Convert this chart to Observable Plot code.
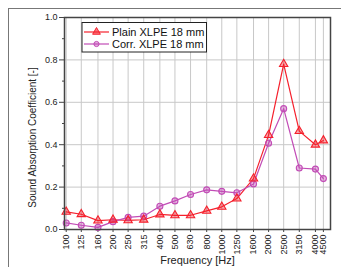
<!DOCTYPE html>
<html>
<head>
<meta charset="utf-8">
<script src="https://cdn.jsdelivr.net/npm/d3@7"></script>
<script src="https://cdn.jsdelivr.net/npm/@observablehq/plot@0.6"></script>
<style>
  html, body { margin: 0; padding: 0; background: #fff; }
  #wrap { position: relative; width: 341px; height: 267px; overflow: hidden; font-family: "Liberation Sans", Arial, sans-serif; }
  #outer { position: absolute; left: 8px; top: 8px; width: 400px; height: 400px; border-left: 1px solid #777; border-top: 1px solid #777; box-sizing: border-box; }
  #chart { position: absolute; left: 0; top: 0; }
  #legend { position: absolute; left: 0; top: 0; }
</style>
</head>
<body>
<div id="wrap">
  <div id="outer"></div>
  <div id="chart"></div>
  <svg id="legend" width="341" height="267"></svg>
</div>
<script>
const frequencies = [100, 125, 160, 200, 250, 315, 400, 500, 630, 800, 1000, 1250, 1600, 2000, 2500, 3150, 4000, 4500];
const plainXLPE = [0.083, 0.072, 0.042, 0.046, 0.043, 0.046, 0.071, 0.067, 0.067, 0.088, 0.107, 0.146, 0.24, 0.445, 0.78, 0.464, 0.40, 0.42];
const corrXLPE = [0.031, 0.02, 0.01, 0.037, 0.057, 0.063, 0.11, 0.135, 0.165, 0.187, 0.18, 0.173, 0.215, 0.407, 0.57, 0.29, 0.285, 0.24];
const seriesNames = ["Plain XLPE 18 mm", "Corr. XLPE 18 mm"];
const seriesColors = ["#f5202c", "#c24cb6"];
const yMajorTicks = [0, 0.2, 0.4, 0.6, 0.8, 1.0];
const yMinorTicks = [0.1, 0.3, 0.5, 0.7, 0.9];
const xLabel = "Frequency [Hz]";
const yLabel = "Sound Absorption Coefficient [-]";

const rows = [];
frequencies.forEach((f, i) => {
  rows.push({f, v: plainXLPE[i], s: seriesNames[0]});
  rows.push({f, v: corrXLPE[i], s: seriesNames[1]});
});
const plain = rows.filter(d => d.s === seriesNames[0]);
const corr = rows.filter(d => d.s === seriesNames[1]);

const chart = Plot.plot({
  width: 341,
  height: 267,
  marginLeft: 64,
  marginRight: 11,
  marginTop: 17,
  marginBottom: 38,
  style: {fontFamily: '"Liberation Sans", Arial, sans-serif', fontSize: "9px", background: "transparent", overflow: "visible"},
  x: {type: "log", domain: [97.5, 5000]},
  y: {domain: [0, 1]},
  marks: [
    Plot.gridX(frequencies, {stroke: "#c8c8c8", strokeOpacity: 1, strokeWidth: 1}),
    Plot.gridY([0.2, 0.4, 0.6, 0.8], {stroke: "#c8c8c8", strokeOpacity: 1, strokeWidth: 1}),
    Plot.axisY(yMajorTicks, {tickSize: 5, tickPadding: 2, tickFormat: d3.format(".1f"), label: null, fill: "#222", stroke: "#444"}),
    Plot.axisY(yMinorTicks, {tickSize: 2, text: null, label: null, stroke: "#444"}),
    Plot.axisX(frequencies, {tickSize: 3, text: null, label: null, stroke: "#444"}),
    Plot.text(frequencies, {x: d => d, text: d => String(d), frameAnchor: "bottom", rotate: -90, textAnchor: "end", lineAnchor: "middle", dy: 5, fontSize: 9, fill: "#222"}),
    Plot.line(plain, {x: "f", y: "v", stroke: seriesColors[0], strokeWidth: 1.2}),
    Plot.line(corr, {x: "f", y: "v", stroke: seriesColors[1], strokeWidth: 1.2}),
    Plot.dot(corr, {x: "f", y: "v", symbol: "circle", r: 3.0, stroke: seriesColors[1], fill: seriesColors[1], fillOpacity: 0.4, strokeWidth: 1.1}),
    Plot.dot(plain, {x: "f", y: "v", symbol: "triangle", r: 3.1, stroke: seriesColors[0], fill: seriesColors[0], fillOpacity: 0.4, strokeWidth: 1.1}),
    Plot.frame({stroke: "#444", strokeWidth: 1.5}),
    Plot.text([xLabel], {frameAnchor: "bottom", dy: 34, fontSize: 11, fill: "#222"}),
    Plot.text([yLabel], {frameAnchor: "left", rotate: -90, textAnchor: "middle", lineAnchor: "middle", dx: -32, dy: 14, fontSize: 10, fill: "#222"})
  ]
});
document.getElementById("chart").appendChild(chart);

// legend box
const lg = d3.select("#legend");
const lx = 82, ly = 22.5, lw = 124.5, lh = 29.5;
lg.append("rect").attr("x", lx).attr("y", ly).attr("width", lw).attr("height", lh)
  .attr("fill", "#fff").attr("stroke", "#222").attr("stroke-width", 1);
const rowY = [32, 44];
seriesNames.forEach((name, i) => {
  const y = rowY[i];
  lg.append("line").attr("x1", 84).attr("x2", 109).attr("y1", y).attr("y2", y)
    .attr("stroke", seriesColors[i]).attr("stroke-width", 1.2);
  if (i === 0) {
    const s = d3.symbol(d3.symbolTriangle, 26)();
    lg.append("path").attr("d", s).attr("transform", `translate(96.5,${y})`)
      .attr("stroke", seriesColors[i]).attr("fill", seriesColors[i]).attr("fill-opacity", 0.6);
  } else {
    lg.append("circle").attr("cx", 96.5).attr("cy", y).attr("r", 2.6)
      .attr("stroke", seriesColors[i]).attr("fill", seriesColors[i]).attr("fill-opacity", 0.45);
  }
  lg.append("text").attr("x", 112).attr("y", y).attr("dy", "0.35em")
    .attr("font-family", '"Liberation Sans", Arial, sans-serif').attr("font-size", 11)
    .attr("fill", "#111").text(name);
});
</script>
</body>
</html>
